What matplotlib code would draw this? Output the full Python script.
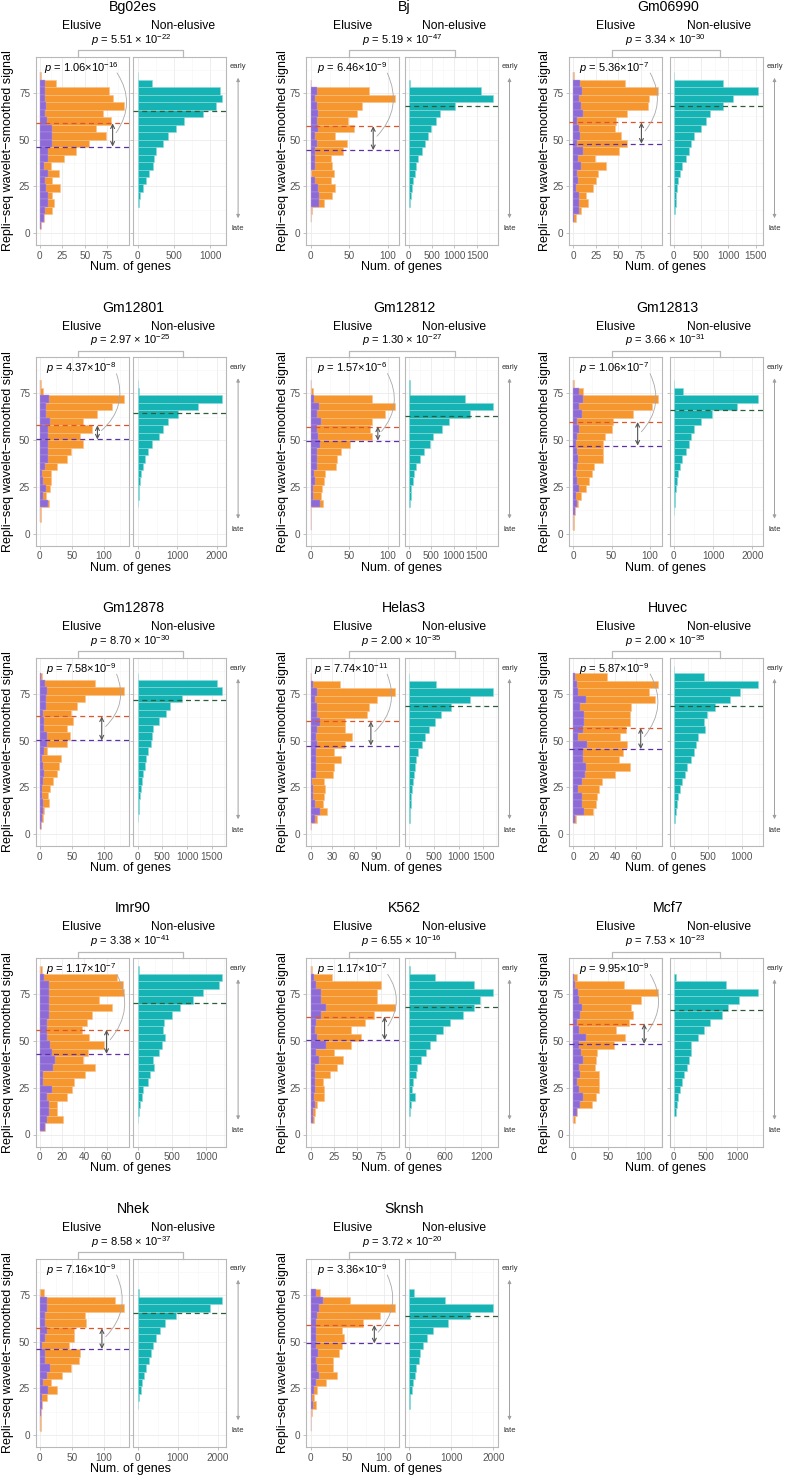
import matplotlib
matplotlib.use("Agg")
import matplotlib.pyplot as plt
from matplotlib.patches import FancyArrowPatch
from matplotlib.lines import Line2D

plt.rcParams['font.family'] = ['Liberation Sans', 'DejaVu Sans']
plt.rcParams['mathtext.fontset'] = 'custom'
plt.rcParams['mathtext.rm'] = 'Liberation Sans'
plt.rcParams['mathtext.it'] = 'Liberation Sans:italic'

# ---------------- data ----------------
NAMES = ["Bg02es", "Bj", "Gm06990", "Gm12801", "Gm12812", "Gm12813", "Gm12878",
         "Helas3", "Huvec", "Imr90", "K562", "Mcf7", "Nhek", "Sknsh"]

P_BETWEEN_MANT = [5.51, 5.19, 3.34, 2.97, 1.30, 3.66, 8.70, 2.00, 2.00, 3.38, 6.55, 7.53, 8.58, 3.72]
P_BETWEEN_EXP = [-22, -47, -30, -25, -27, -31, -30, -35, -35, -41, -16, -23, -37, -20]
P_WITHIN_MANT = [1.06, 6.46, 5.36, 4.37, 1.57, 1.06, 7.58, 7.74, 5.87, 1.17, 1.17, 9.95, 7.16, 3.36]
P_WITHIN_EXP = [-16, -9, -7, -8, -6, -7, -9, -11, -9, -7, -7, -9, -9, -9]

MEAN_ELUSIVE = [58.7, 57.2, 59.2, 57.9, 57.3, 59.7, 63.0, 60.3, 56.7, 56.1, 63.2, 59.3, 57.1, 58.9]
MEAN_SUBSET = [46.3, 44.4, 47.9, 50.4, 49.8, 47.1, 50.1, 47.4, 45.5, 43.2, 50.7, 48.6, 46.1, 49.1]
MEAN_NONELUSIVE = [65.1, 68.0, 68.0, 64.5, 63.2, 66.3, 71.6, 68.7, 68.4, 70.4, 68.2, 66.6, 65.5, 63.8]
ARROW_X = [81, 81, 76, 90, 87, 84, 96, 83, 64, 60, 79, 101, 97, 87]

BIN_WIDTH = 4
TOP_ELUSIVE = [86, 82, 86, 82, 82, 82, 86.5, 86, 86, 90, 90, 86, 78, 78]
TOP_NONELUSIVE = [86, 82, 86, 82, 82, 82, 86.5, 86, 90, 90, 90, 86, 78, 78]

ELUSIVE_TICKS = [[0, 25, 50, 75], [0, 50, 100], [0, 25, 50, 75], [0, 50, 100], [0, 50, 100],
                 [0, 50, 100], [0, 50, 100], [0, 30, 60, 90], [0, 20, 40, 60], [0, 20, 40, 60],
                 [0, 25, 50, 75], [0, 50, 100], [0, 50, 100], [0, 50, 100]]
NONELUSIVE_TICKS = [[0, 500, 1000], [0, 500, 1000, 1500], [0, 500, 1000, 1500], [0, 1000, 2000],
                    [0, 500, 1000, 1500], [0, 1000, 2000], [0, 500, 1000, 1500],
                    [0, 500, 1000, 1500], [0, 500, 1000], [0, 500, 1000], [0, 600, 1200],
                    [0, 500, 1000], [0, 1000, 2000], [0, 1000, 2000]]
Y_TICKS = [0, 25, 50, 75]

# counts per bin, listed from the top bin downwards
BG02ES_ELUSIVE = [1, 18, 77, 81, 94, 70, 79, 63, 74, 55, 40, 27, 12, 21, 14, 22, 14, 16, 14, 5, 1]
BG02ES_SUBSET = [0, 6, 6, 6, 7, 6, 8, 13, 13, 13, 9, 9, 4, 9, 6, 7, 9, 9, 6, 4, 1]
BG02ES_NONELUSIVE = [3, 198, 1138, 1161, 1083, 908, 645, 530, 415, 355, 253, 230, 207, 152, 115, 70, 32, 14]

BJ_ELUSIVE = [1, 75, 109, 67, 60, 49, 56, 32, 47, 42, 27, 28, 30, 27, 31, 28, 18, 2, 1]
BJ_SUBSET = [0, 8, 6, 8, 10, 8, 10, 6, 8, 6, 6, 6, 1, 6, 10, 11, 11, 1, 0]
BJ_NONELUSIVE = [20, 1574, 1853, 1007, 690, 588, 478, 419, 345, 287, 199, 162, 140, 88, 66, 51, 29]

GM06990_ELUSIVE = [1, 58, 94, 84, 83, 60, 48, 46, 53, 60, 51, 24, 36, 28, 25, 22, 14, 16, 9, 3]
GM06990_SUBSET = [0, 8, 10, 6, 9, 11, 4, 6, 7, 4, 11, 5, 9, 4, 5, 3, 6, 6, 6, 1]
GM06990_NONELUSIVE = [5, 906, 1549, 1090, 906, 661, 582, 490, 367, 306, 276, 214, 153, 110, 73, 61, 37, 31, 12]

GM12801_ELUSIVE = [1, 5, 132, 113, 90, 68, 81, 63, 68, 49, 42, 27, 18, 17, 16, 10, 14, 1, 1]
GM12801_SUBSET = [0, 0, 14, 10, 10, 15, 12, 12, 13, 13, 12, 8, 4, 5, 9, 5, 12, 0, 0]
GM12801_NONELUSIVE = [20, 42, 2135, 1525, 1034, 763, 636, 534, 364, 254, 186, 127, 85, 59, 42, 25, 8]

GM12812_ELUSIVE = [1, 3, 80, 109, 96, 80, 77, 79, 51, 40, 34, 33, 19, 18, 15, 14, 16, 0, 1, 1]
GM12812_SUBSET = [0, 0, 5, 11, 9, 13, 8, 10, 12, 9, 9, 9, 5, 6, 3, 3, 12, 0, 0, 0]
GM12812_NONELUSIVE = [15, 15, 1252, 1881, 1370, 904, 741, 533, 481, 326, 237, 163, 111, 89, 52, 37, 22]

GM12813_ELUSIVE = [1, 13, 110, 103, 78, 52, 50, 42, 39, 39, 39, 27, 24, 20, 17, 10, 6, 2, 1, 1]
GM12813_SUBSET = [0, 8, 13, 7, 12, 5, 7, 5, 4, 5, 6, 5, 4, 5, 7, 3, 5, 2, 0, 0]
GM12813_NONELUSIVE = [0, 230, 2153, 1617, 962, 681, 511, 425, 383, 298, 213, 153, 102, 68, 43, 26, 17, 9]

GM12878_ELUSIVE = [4, 85, 131, 70, 57, 49, 52, 42, 46, 42, 11, 32, 30, 26, 21, 15, 13, 14, 7, 5, 1]
GM12878_SUBSET = [1, 8, 11, 9, 10, 5, 6, 6, 11, 11, 6, 4, 5, 6, 5, 4, 4, 5, 5, 4, 1]
GM12878_NONELUSIVE = [14, 1600, 1700, 892, 655, 574, 426, 318, 284, 270, 209, 169, 149, 115, 88, 68, 47, 34, 20, 14]

HELAS3_ELUSIVE = [1, 40, 116, 91, 80, 78, 47, 47, 57, 47, 32, 42, 32, 31, 18, 20, 18, 17, 22, 9, 1]
HELAS3_SUBSET = [0, 3, 9, 6, 9, 9, 13, 9, 7, 9, 8, 7, 7, 7, 2, 4, 4, 6, 13, 6, 0]
HELAS3_NONELUSIVE = [0, 540, 1700, 1230, 838, 655, 534, 405, 318, 263, 182, 149, 115, 95, 81, 68, 47, 34, 20, 14]

HUVEC_ELUSIVE = [32, 80, 72, 78, 55, 54, 54, 50, 44, 51, 47, 43, 54, 40, 27, 24, 23, 22, 19, 3]
HUVEC_SUBSET = [2, 4, 5, 12, 6, 10, 10, 9, 5, 13, 9, 9, 12, 11, 8, 5, 8, 8, 10, 2]
HUVEC_NONELUSIVE = [3, 441, 1240, 970, 823, 598, 480, 441, 456, 353, 319, 294, 245, 196, 162, 113, 88, 64, 49, 25, 10]

IMR90_ELUSIVE = [2, 69, 75, 76, 53, 65, 47, 42, 38, 44, 58, 43, 39, 50, 41, 31, 29, 24, 15, 15, 21, 5]
IMR90_SUBSET = [0, 4, 8, 8, 8, 8, 8, 6, 6, 6, 9, 11, 14, 12, 3, 3, 11, 6, 8, 8, 6, 5]
IMR90_NONELUSIVE = [15, 1225, 1176, 956, 809, 613, 505, 382, 377, 402, 353, 309, 221, 235, 186, 147, 83, 64, 39, 25, 10]

K562_ELUSIVE = [2, 23, 75, 71, 71, 90, 68, 58, 43, 54, 43, 25, 35, 28, 21, 13, 14, 14, 7, 5, 4]
K562_SUBSET = [1, 4, 6, 11, 11, 16, 11, 6, 5, 7, 17, 6, 9, 5, 5, 5, 5, 4, 5, 3, 3]
K562_NONELUSIVE = [11, 431, 1075, 1400, 1176, 1075, 896, 683, 560, 448, 347, 291, 207, 134, 112, 67, 56, 95, 39, 11]

MCF7_ELUSIVE = [5, 72, 120, 96, 82, 85, 80, 61, 74, 58, 34, 32, 31, 36, 37, 36, 32, 27, 6, 2]
MCF7_SUBSET = [1, 3, 7, 8, 12, 10, 6, 8, 18, 8, 11, 14, 8, 10, 6, 8, 14, 10, 5, 0]
MCF7_NONELUSIVE = [37, 826, 1330, 1026, 853, 763, 568, 474, 384, 263, 263, 237, 211, 158, 121, 95, 63, 53, 37]

NHEK_ELUSIVE = [6, 118, 132, 70, 72, 53, 53, 46, 63, 61, 49, 35, 17, 27, 11, 3, 1, 1, 1]
NHEK_SUBSET = [0, 11, 11, 8, 8, 11, 8, 4, 8, 8, 15, 11, 5, 13, 4, 3, 1, 0, 0]
NHEK_NONELUSIVE = [25, 2100, 1807, 966, 689, 563, 462, 395, 336, 277, 210, 151, 109, 84, 42, 17]

SKNSH_ELUSIVE = [13, 54, 115, 95, 72, 43, 45, 43, 39, 31, 30, 36, 21, 9, 5, 8, 2, 1, 1]
SKNSH_SUBSET = [7, 17, 11, 9, 8, 7, 7, 7, 10, 7, 9, 11, 7, 5, 2, 4, 1, 0, 0]
SKNSH_NONELUSIVE = [112, 856, 2000, 1456, 936, 576, 432, 336, 272, 240, 176, 136, 96, 64, 32, 16]

ELUSIVE_COUNTS = [BG02ES_ELUSIVE, BJ_ELUSIVE, GM06990_ELUSIVE, GM12801_ELUSIVE, GM12812_ELUSIVE,
                  GM12813_ELUSIVE, GM12878_ELUSIVE, HELAS3_ELUSIVE, HUVEC_ELUSIVE, IMR90_ELUSIVE,
                  K562_ELUSIVE, MCF7_ELUSIVE, NHEK_ELUSIVE, SKNSH_ELUSIVE]
SUBSET_COUNTS = [BG02ES_SUBSET, BJ_SUBSET, GM06990_SUBSET, GM12801_SUBSET, GM12812_SUBSET,
                 GM12813_SUBSET, GM12878_SUBSET, HELAS3_SUBSET, HUVEC_SUBSET, IMR90_SUBSET,
                 K562_SUBSET, MCF7_SUBSET, NHEK_SUBSET, SKNSH_SUBSET]
NONELUSIVE_COUNTS = [BG02ES_NONELUSIVE, BJ_NONELUSIVE, GM06990_NONELUSIVE, GM12801_NONELUSIVE,
                     GM12812_NONELUSIVE, GM12813_NONELUSIVE, GM12878_NONELUSIVE, HELAS3_NONELUSIVE,
                     HUVEC_NONELUSIVE, IMR90_NONELUSIVE, K562_NONELUSIVE, MCF7_NONELUSIVE,
                     NHEK_NONELUSIVE, SKNSH_NONELUSIVE]

# ---------------- style / layout ----------------
C_ORANGE = '#F6962F'
C_ORANGE_E = '#F9C186'
C_PURPLE = '#8E6AD6'
C_PURPLE_E = '#B29CE4'
C_TEAL = '#15B3B3'
C_TEAL_E = '#8DD9D9'
C_RED_LINE = '#E0542A'
C_PUR_LINE = '#5E2FA8'
C_GRN_LINE = '#2D5E39'
C_BORDER = '#B8B8B8'
C_GRID = '#EBEBEB'
C_GRID_MINOR = '#F5F5F5'

FW, FH = 785, 1475
PPU = 1.8667               # pixels per y unit
YLIM = (-6.5, 94.5)
PW = 92.8                  # panel width (px)
COL_EL = [35.7, 306.3, 569.0]
COL_TL = [133.3, 404.7, 669.7]
COL_YLAB = [8, 283, 545]
ROW_ZERO = [233, 533.5, 834, 1134.5, 1435]

fig = plt.figure(figsize=(FW / 100, FH / 100), dpi=100)
fig.patch.set_facecolor('white')


def axes_px(x, y, w, h):
    return fig.add_axes([x / FW, 1 - (y + h) / FH, w / FW, h / FH])


def fx(x):
    return x / FW


def fy(y):
    return 1 - y / FH


def ftext(x, y, s, **kw):
    fig.text(fx(x), fy(y), s, **kw)


def minor_between(ticks, lo, hi):
    step = ticks[1] - ticks[0]
    cand = [t + step / 2 for t in ticks] + [ticks[0] - step / 2]
    return [c for c in cand if lo < c < hi]


def style_axis(ax, xticks, xlim, show_ylabels):
    ax.set_xlim(xlim)
    ax.set_ylim(YLIM)
    ax.set_xticks(xticks)
    ax.set_xticks(minor_between(xticks, *xlim), minor=True)
    ax.set_yticks(Y_TICKS)
    ax.set_yticks([12.5, 37.5, 62.5, 87.5], minor=True)
    ax.grid(which='major', color=C_GRID, lw=0.6)
    ax.grid(which='minor', color=C_GRID_MINOR, lw=0.4)
    ax.set_axisbelow(True)
    for sp in ax.spines.values():
        sp.set_color(C_BORDER)
        sp.set_linewidth(0.8)
    ax.tick_params(which='major', length=2.5, width=0.6, color=C_BORDER,
                   labelcolor='#555555', labelsize=7.2, pad=1.5)
    ax.tick_params(which='minor', length=0)
    if not show_ylabels:
        ax.tick_params(axis='y', labelleft=False)


def p_text(m, e, spaced=True):
    sep = ' × ' if spaced else '×'
    return r'$p$' + ' = ' + f'{m:.2f}' + sep + r'$\mathregular{10^{' + str(e) + r'}}$'


for i, name in enumerate(NAMES):
    row, col = divmod(i, 3)
    zero = ROW_ZERO[row]
    EL, TL = COL_EL[col], COL_TL[col]
    top = zero - YLIM[1] * PPU
    h = (YLIM[1] - YLIM[0]) * PPU

    elu = ELUSIVE_COUNTS[i]
    sub = SUBSET_COUNTS[i]
    non = NONELUSIVE_COUNTS[i]

    ax1 = axes_px(EL, top, PW, h)
    ax2 = axes_px(TL, top, PW, h)

    m1 = max(elu)
    xl1 = (-0.05 * m1, 1.05 * m1)
    m2 = max(non)
    xl2 = (-0.05 * m2, 1.05 * m2)
    style_axis(ax1, ELUSIVE_TICKS[i], xl1, True)
    style_axis(ax2, NONELUSIVE_TICKS[i], xl2, False)

    # histograms
    bot_e = [TOP_ELUSIVE[i] - (k + 1) * BIN_WIDTH for k in range(len(elu))]
    ax1.barh(bot_e, elu, height=BIN_WIDTH, align='edge', color=C_ORANGE,
             edgecolor=C_ORANGE_E, linewidth=0.4, zorder=2)
    bot_s = [TOP_ELUSIVE[i] - (k + 1) * BIN_WIDTH for k in range(len(sub))]
    ax1.barh(bot_s, sub, height=BIN_WIDTH, align='edge', color=C_PURPLE,
             edgecolor=C_PURPLE_E, linewidth=0.3, zorder=3)
    bot_n = [TOP_NONELUSIVE[i] - (k + 1) * BIN_WIDTH for k in range(len(non))]
    ax2.barh(bot_n, non, height=BIN_WIDTH, align='edge', color=C_TEAL,
             edgecolor=C_TEAL_E, linewidth=0.4, zorder=2)

    # mean lines
    ax1.axhline(MEAN_ELUSIVE[i], color=C_RED_LINE, ls=(0, (4, 3)), lw=0.9, zorder=4)
    ax1.axhline(MEAN_SUBSET[i], color=C_PUR_LINE, ls=(0, (4, 3)), lw=0.9, zorder=4)
    ax2.axhline(MEAN_NONELUSIVE[i], color=C_GRN_LINE, ls=(0, (4, 3)), lw=0.9, zorder=4)

    # double arrow between elusive means
    arrow_x = ARROW_X[i]
    ax1.annotate('', xy=(arrow_x, MEAN_SUBSET[i]), xytext=(arrow_x, MEAN_ELUSIVE[i]),
                 arrowprops=dict(arrowstyle='<->', color='#555555', lw=0.8,
                                 shrinkA=0, shrinkB=0, mutation_scale=7), zorder=5)

    # inner p label + curve
    span = xl1[1] - xl1[0]
    lab_x = xl1[0] + 0.49 * span
    ax1.text(lab_x, 88.5, p_text(P_WITHIN_MANT[i], P_WITHIN_EXP[i], spaced=False),
             ha='center', va='center', fontsize=8, color='black', zorder=6)
    sx = xl1[0] + 0.86 * span
    ex = arrow_x + 0.02 * span
    ey = (MEAN_ELUSIVE[i] + MEAN_SUBSET[i]) / 2
    curve = FancyArrowPatch((sx, 87.0), (ex, ey), connectionstyle='arc3,rad=-0.36',
                            arrowstyle='-', color='#A8A8A8', lw=0.6,
                            transform=ax1.transData, zorder=6, clip_on=False)
    ax1.add_patch(curve)

    # top bracket
    xL = EL + 0.46 * PW
    xR = TL + 0.54 * PW
    yb = zero - 183
    fig.add_artist(Line2D([fx(xL), fx(xL), fx(xR), fx(xR)],
                          [fy(top), fy(yb), fy(yb), fy(top)],
                          transform=fig.transFigure, color=C_BORDER, lw=0.9))
    ftext((xL + xR) / 2, zero - 193, p_text(P_BETWEEN_MANT[i], P_BETWEEN_EXP[i]),
          ha='center', va='center', fontsize=8)

    # strips and title
    ftext(EL + PW / 2, zero - 207, 'Elusive', ha='center', va='center', fontsize=8.7)
    ftext(TL + PW / 2 + 3, zero - 207, 'Non-elusive', ha='center', va='center', fontsize=8.7)
    ftext((EL + TL + PW) / 2 + 2, zero - 226, name, ha='center', va='center', fontsize=10.2)

    # axis titles
    ftext((EL + TL + PW) / 2, zero + 34, 'Num. of genes', ha='center', va='center', fontsize=9)
    ftext(COL_YLAB[col], top + h / 2, 'Repli\u2212seq wavelet\u2212smoothed signal',
          ha='center', va='center', rotation=90, fontsize=9)

    # early / late arrow
    ax_x = TL + PW + 12
    arr = FancyArrowPatch((fx(ax_x), fy(zero - 12)), (fx(ax_x), fy(zero - 158)),
                          arrowstyle='<|-|>', mutation_scale=5, color='#A0A0A0', lw=0.7,
                          transform=fig.transFigure)
    fig.add_artist(arr)
    ftext(ax_x, zero - 166, 'early', ha='center', va='center', fontsize=5.5, color='#333333')
    ftext(ax_x, zero - 4, 'late', ha='center', va='center', fontsize=5.5, color='#333333')

fig.savefig('out.png', dpi=100, facecolor='white')
